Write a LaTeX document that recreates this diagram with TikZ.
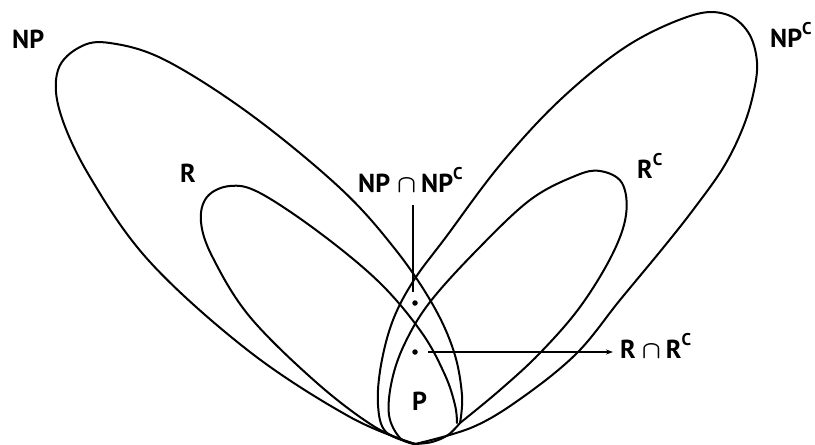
\documentclass[tikz,border=0pt]{standalone}
\usepackage{fontspec}
\setmainfont{PT Sans}
\usetikzlibrary{arrows.meta}
\newcommand\supC{\raisebox{13pt}{\fontsize{17}{17}\selectfont C}}
\newcommand\capsym{{\boldmath$\cap$}}
\begin{document}
\begin{tikzpicture}[x=1pt,y=-1pt,
  curve/.style={line width=2pt, line cap=round, line join=round},
  pointer/.style={line width=1.6pt},
  lbl/.style={inner sep=0pt, anchor=base west, font=\fontsize{26}{30}\selectfont\bfseries},
  dotnode/.style={circle, fill, inner sep=0pt, minimum size=5.5pt}]
\useasboundingbox (0,0) rectangle (815,445);

% NP
\draw[curve] plot[smooth, tension=0.6] coordinates {(415,444) (350,417) (250,352) (150,262) (90,177) (60,112) (58,70) (80,47) (110,43) (165,60) (250,114) (340,188) (395,249) (433,305) (454,352) (462,395) (460,423)};
% R
\draw[curve] plot[smooth, tension=0.6] coordinates {(415,444) (375,427) (317,383) (250,317) (213,258) (201,222) (207,197) (230,186) (260,193) (320,233) (380,283) (422,333) (445,375) (455,405) (457,423)};
% NP^C
\draw[curve] plot[smooth, tension=0.6] coordinates {(415,444) (473,427) (523,397) (577,353) (620,300) (663,248) (693,210) (723,168) (742,130) (753,95) (757,62) (748,32) (725,14) (690,16) (627,46) (560,100) (500,165) (446,237) (414,280) (393,320) (381,365) (378,405) (386,432) (415,444)};
% R^C
\draw[curve] plot[smooth, tension=0.6] coordinates {(460,423) (500,390) (540,353) (580,307) (612,255) (626,215) (622,183) (600,171) (575,176) (530,200) (477,250) (430,302) (405,343) (392,380) (389,415) (400,438) (415,444)};
% cusp to bottom
\draw[curve] plot[smooth, tension=0.6] coordinates {(460,423) (448,435) (432,442) (415,444)};

% labels
\node[lbl] (np) at (12,48) {NP};
\node[lbl] (npc) at (770,47) {NP\supC};
\node[lbl] (r) at (180,182) {R};
\node[lbl] (rc) at (637,178) {R\supC};
\node[lbl] (npnpc) at (358,192) {NP\hspace{7pt}\capsym\hspace{5pt}NP\supC};
\node[lbl] (rrc) at (620,358) {R\hspace{6pt}\capsym\hspace{5pt}R\supC};
\node[lbl] (p) at (412,410) {P};

% dots and pointers
\node[dotnode] (d1) at (415,303) {};
\node[dotnode] (d2) at (415,352) {};
\coordinate (t1) at (413,205);
\coordinate (b1) at (413,292);
\draw[pointer] (t1) -- (b1);
\coordinate (s2) at (428,352);
\coordinate (e2) at (613,352);
\draw[pointer, -{Stealth[length=7pt,width=5pt]}] (s2) -- (e2);
\end{tikzpicture}
\end{document}
